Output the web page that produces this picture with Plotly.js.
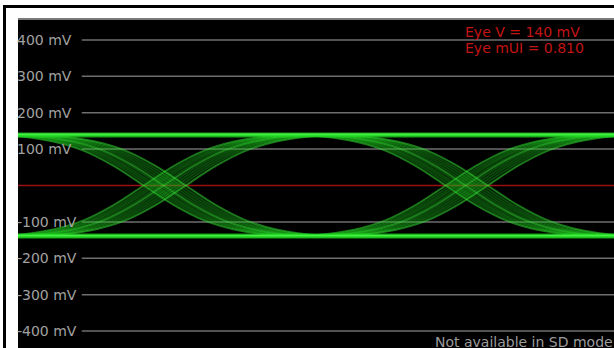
<!DOCTYPE html>
<html>
<head>
<meta charset="utf-8">
<script src="https://cdn.plot.ly/plotly-3.0.1.min.js"></script>
<style>
  html, body { margin:0; padding:0; background:#fff; width:614px; height:348px; overflow:hidden; }
  #frame { position:absolute; left:3px; top:5px; width:611px; height:343px; box-sizing:border-box;
           border-top:3px solid #000; border-left:3px solid #000; }
  #chart { position:absolute; left:0; top:0; width:614px; height:348px; }
</style>
</head>
<body>
<div id="frame"></div>
<div id="chart"></div>
<script>
// ---- data ----
// y-axis ticks (mV)
const tickVals = [400, 300, 200, 100, -100, -200, -300, -400];
const tickText = ['400 mV', '300 mV', '200 mV', '100 mV', '-100 mV', '-200 mV', '-300 mV', '-400 mV'];
// logic rails (mV)
const railHigh = [142, 139, 136];
const railLow  = [-136, -139, -142];
// transition shape around a crossing: time from crossing (UI) and level (mV)
const edgeDt   = [-0.5, -0.4, -0.3, -0.2, -0.1, 0, 0.1, 0.2, 0.3, 0.4, 0.5];
const edgeFall = [139, 134, 121, 96, 54, 0, -54, -96, -121, -134, -139];
const edgeRise = [-139, -134, -121, -96, -54, 0, 54, 96, 121, 134, 139];
// crossing instants (UI) and per-trace timing jitter (UI)
const crossings = [0.5, 1.5];
const jitter = [-0.07, -0.055, -0.042, -0.03, -0.016, -0.004, 0.01, 0.024, 0.038, 0.052, 0.068];
// visible time window (UI)
const xRange = [0.013, 1.987];
// measurement read-outs
const eyeTexts = ['Eye V = 140 mV', 'Eye mUI = 0.810'];
const modeText = 'Not available in SD mode';

// ---- traces ----
const traces = [];
crossings.forEach(c => {
  jitter.forEach((j, k) => {
    const edgeLine = (k === 0 || k === jitter.length - 1 || k === 5);
    [edgeFall, edgeRise].forEach(lv => {
      traces.push({
        type: 'scatter', mode: 'lines',
        x: edgeDt.map(d => c + j + d), y: lv,
        line: { color: edgeLine ? 'rgba(50,220,50,0.55)' : 'rgba(30,190,30,0.38)', width: 2, shape: 'spline', smoothing: 1 },
        hoverinfo: 'skip', showlegend: false
      });
    });
  });
});
[railHigh, railLow].forEach(rail => {
  rail.forEach((v, i) => {
    traces.push({
      type: 'scatter', mode: 'lines',
      x: xRange, y: [v, v],
      line: { color: i === 1 ? 'rgba(80,255,80,0.95)' : 'rgba(30,210,30,0.75)', width: 2.8 },
      hoverinfo: 'skip', showlegend: false
    });
  });
});

// ---- shapes: gridlines, zero line, top edge ----
const shapes = tickVals.map(v => ({
  type: 'line', xref: 'paper', yref: 'y', x0: 0.107, x1: 1, y0: v, y1: v,
  line: { color: '#6e6e6e', width: 1.5 }, layer: 'below'
}));
shapes.push({ type: 'line', xref: 'paper', yref: 'y', x0: 0, x1: 1, y0: 0, y1: 0,
  line: { color: '#9a1010', width: 1.5 }, layer: 'below' });
shapes.push({ type: 'line', xref: 'paper', yref: 'paper', x0: 0, x1: 1, y0: 1, y1: 1,
  line: { color: '#7a7a7a', width: 2 }, layer: 'above' });

const annFont = { family: 'DejaVu Sans, Verdana, sans-serif', size: 14 };
const annotations = [
  { text: eyeTexts[0], xref: 'paper', yref: 'paper', x: 0.7466, y: 0.961, xanchor: 'left', yanchor: 'middle',
    showarrow: false, font: Object.assign({}, annFont, { color: '#c41414' }) },
  { text: eyeTexts[1], xref: 'paper', yref: 'paper', x: 0.7466, y: 0.912, xanchor: 'left', yanchor: 'middle',
    showarrow: false, font: Object.assign({}, annFont, { color: '#c41414' }) },
  { text: modeText, xref: 'paper', yref: 'paper', x: 0.6963, y: 0.018, xanchor: 'left', yanchor: 'middle',
    showarrow: false, font: Object.assign({}, annFont, { color: '#9c9c9c' }) }
];

const layout = {
  width: 614, height: 348,
  margin: { l: 18, r: 0, t: 19, b: 0, pad: 0 },
  paper_bgcolor: 'rgba(0,0,0,0)',
  plot_bgcolor: '#000',
  showlegend: false,
  xaxis: { range: xRange, visible: false, showgrid: false, zeroline: false, fixedrange: true },
  yaxis: {
    range: [-446.7, 457.7], tickvals: tickVals, ticktext: tickText,
    ticklabelposition: 'inside', ticklabelstandoff: -4, ticks: '', showgrid: false, zeroline: false, showline: false,
    tickfont: { family: 'DejaVu Sans, Verdana, sans-serif', size: 14, color: '#a2a2a2' },
    fixedrange: true
  },
  shapes: shapes,
  annotations: annotations
};

Plotly.newPlot('chart', traces, layout, { displayModeBar: false, staticPlot: true });
</script>
</body>
</html>
